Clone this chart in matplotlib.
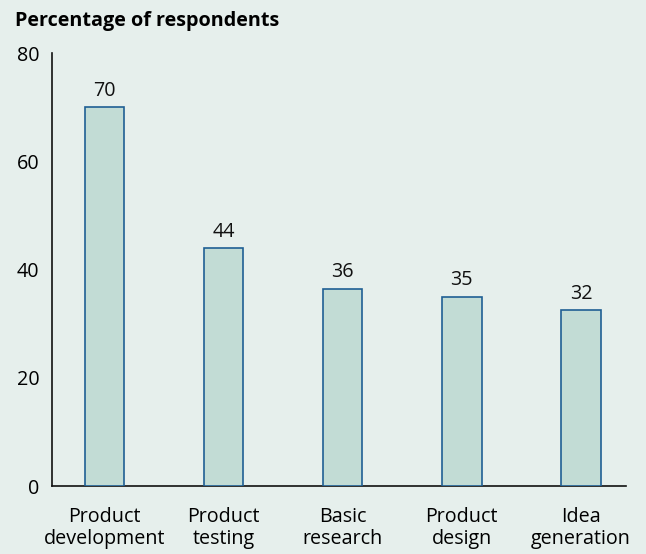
import numpy as np
import matplotlib
matplotlib.use("Agg")
import matplotlib.pyplot as plt

plt.rcParams['font.family'] = ['Open Sans', 'DejaVu Sans']

categories = ["Product\ndevelopment", "Product\ntesting", "Basic\nresearch", "Product\ndesign", "Idea\ngeneration"]
values = [70, 44, 36.5, 35, 32.5]
labels = ["70", "44", "36", "35", "32"]
yticks = [0, 20, 40, 60, 80]

bg = "#e6efec"
fs = 14.2
fig = plt.figure(figsize=(6.46, 5.54), dpi=100, facecolor=bg)
ax = fig.add_axes([0.0805, 0.1227, 0.889, 0.7811])
ax.set_facecolor(bg)

x = np.arange(len(categories))
ax.bar(x, values, width=0.33, color="#c2dcd5", edgecolor="#1f5f94", linewidth=1.2, zorder=3)
for xi, v, lab in zip(x, values, labels):
    ax.text(xi, v + 1.2, lab, ha="center", va="bottom", fontsize=fs, color="#111111")

ax.set_xlim(-0.44, 4.38)
ax.set_ylim(0, 80)
ax.set_yticks(yticks)
ax.set_xticks(x)
ax.set_xticklabels(categories, fontsize=fs, linespacing=1.12)
ax.tick_params(axis="y", length=0, pad=9, labelsize=fs)
ax.tick_params(axis="x", length=0, pad=15)
for s in ["top", "right"]:
    ax.spines[s].set_visible(False)
for s in ["left", "bottom"]:
    ax.spines[s].set_color("#111111")
    ax.spines[s].set_linewidth(1.2)

fig.text(0.023, 0.962, "Percentage of respondents", fontsize=fs, fontweight="bold", ha="left", va="center")

fig.savefig("out.png", dpi=100, facecolor=bg)
